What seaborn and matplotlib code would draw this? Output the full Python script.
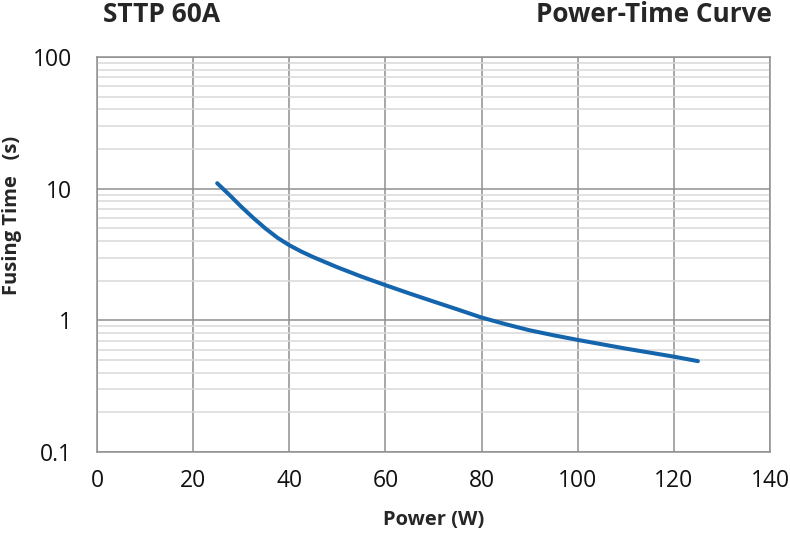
import matplotlib
matplotlib.use("Agg")
import matplotlib.pyplot as plt
from matplotlib.ticker import FixedLocator, NullFormatter
import seaborn as sns
import pandas as pd

# values
power_w = [25, 27.5, 30, 32.5, 35, 37.5, 40, 42.5, 45, 50, 55, 60, 65, 70, 75,
           80, 85, 90, 95, 100, 110, 120, 125]
fusing_s = [11.0, 9.0, 7.3, 6.0, 5.0, 4.25, 3.72, 3.33, 3.02, 2.53, 2.15, 1.85, 1.6, 1.39, 1.21,
            1.05, 0.935, 0.84, 0.77, 0.71, 0.61, 0.53, 0.49]

x_ticks = [0, 20, 40, 60, 80, 100, 120, 140]
y_ticks = [0.1, 1, 10, 100]
y_tick_labels = ["0.1", "1", "10", "100"]

df = pd.DataFrame({"Power": power_w, "Time": fusing_s})

sns.set_style("white")
plt.rcParams["font.family"] = ["Open Sans", "DejaVu Sans"]

fig = plt.figure(figsize=(7.9, 5.34), dpi=100)
ax = fig.add_axes([97 / 790, 1 - 452 / 534, 673 / 790, 395 / 534])

ax.set_yscale("log")
ax.set_xlim(0, 140)
ax.set_ylim(0.1, 100)

# grid
minor = [m * 10.0 ** e for e in (-1, 0, 1) for m in range(2, 10)]
ax.yaxis.set_minor_locator(FixedLocator(minor))
ax.yaxis.set_minor_formatter(NullFormatter())
ax.grid(which="minor", axis="y", color="#d9d9d9", linewidth=1.1)
ax.grid(which="major", axis="both", color="#8f8f8f", linewidth=1.1)
ax.set_axisbelow(True)

sns.lineplot(data=df, x="Power", y="Time", ax=ax, color="#1565ad", linewidth=2.9)

ax.set_xticks(x_ticks)
ax.set_xticklabels([str(t) for t in x_ticks])
ax.set_yticks(y_ticks)
ax.set_yticklabels(y_tick_labels)
ax.tick_params(axis="x", which="both", length=0, pad=12, labelsize=16.5, colors="#111111")
ax.tick_params(axis="y", which="both", length=0, pad=18, labelsize=16.5, colors="#111111")

for s in ax.spines.values():
    s.set_color("#8f8f8f")
    s.set_linewidth(1.1)

ax.set_xlabel("Power (W)", fontsize=14.5, fontweight="bold")
ax.set_ylabel("Fusing Time   (s)", fontsize=14.5, fontweight="bold")
ax.xaxis.set_label_coords(0.5, -0.148)
ax.yaxis.set_label_coords(-0.112, 0.6)

fig.text(103 / 790, 1 - 15 / 534, "STTP 60A", fontsize=19, fontweight="bold",
         ha="left", va="center")
fig.text(772 / 790, 1 - 15 / 534, "Power-Time Curve", fontsize=18.8, fontweight="bold",
         ha="right", va="center")

fig.savefig("out.png", dpi=100)
